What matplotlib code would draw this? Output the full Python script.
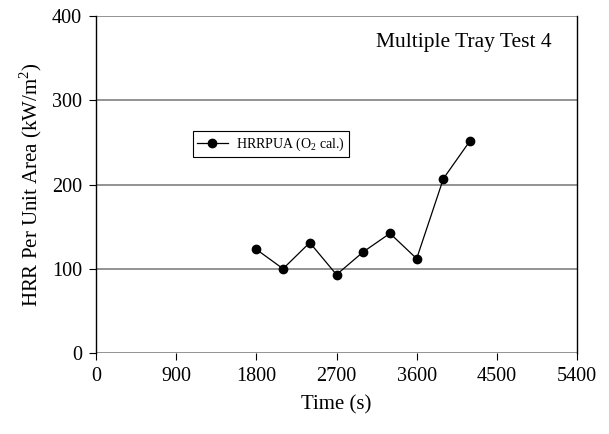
import numpy as np
import matplotlib.pyplot as plt

plt.rcParams['font.family'] = ['Liberation Serif', 'DejaVu Serif']
plt.rcParams['mathtext.fontset'] = 'custom'
plt.rcParams['mathtext.rm'] = 'Liberation Serif'

# data
time_s = [1800, 2100, 2400, 2700, 3000, 3300, 3600, 3900, 4200]
hrrpua = [123, 100, 131, 93, 120, 142, 112, 207, 252]
x_ticks = [0, 900, 1800, 2700, 3600, 4500, 5400]
y_ticks = [0, 100, 200, 300, 400]


def app():
    fig = plt.figure(figsize=(6.09, 4.34), dpi=100)
    ax = fig.add_axes([0.1576, 0.1866, 0.7899, 0.7765])

    # horizontal grid lines (gray), including the top and bottom edges
    for y in y_ticks:
        ax.axhline(y, color='#808080', linewidth=1.2, zorder=1)

    ax.plot(time_s, hrrpua, color='black', linewidth=0.9, marker='o',
            markersize=6, label='HRRPUA (O$_2$ cal.)', zorder=3)

    ax.set_xlim(0, 5400)
    ax.set_ylim(0, 400)
    ax.set_xticks(x_ticks)
    ax.set_yticks(y_ticks)
    ax.tick_params(direction='out', length=5, width=0.8, labelsize=14.5, pad=5)
    ax.spines['top'].set_visible(False)
    ax.spines['bottom'].set_visible(False)
    ax.spines['left'].set_linewidth(1.0)
    ax.spines['right'].set_linewidth(1.0)

    ax.set_xlabel('Time (s)', fontsize=15, labelpad=7)
    ax.set_ylabel('HRR Per Unit Area (kW/m$^2$)', fontsize=15, labelpad=6)

    ax.text(4131, 368, 'Multiple Tray Test 4', fontsize=15.5,
            ha='center', va='center')

    leg = ax.legend(loc='upper left', bbox_to_anchor=(0.317, 0.698),
                    bbox_transform=fig.transFigure, borderaxespad=0,
                    fontsize=10, fancybox=False, framealpha=1,
                    handlelength=2.2, borderpad=0.3, handletextpad=0.6)
    leg.get_frame().set_edgecolor('black')
    leg.get_frame().set_linewidth(0.8)

    fig.savefig('out.png', dpi=100)


if __name__ == "__main__":
    app()
